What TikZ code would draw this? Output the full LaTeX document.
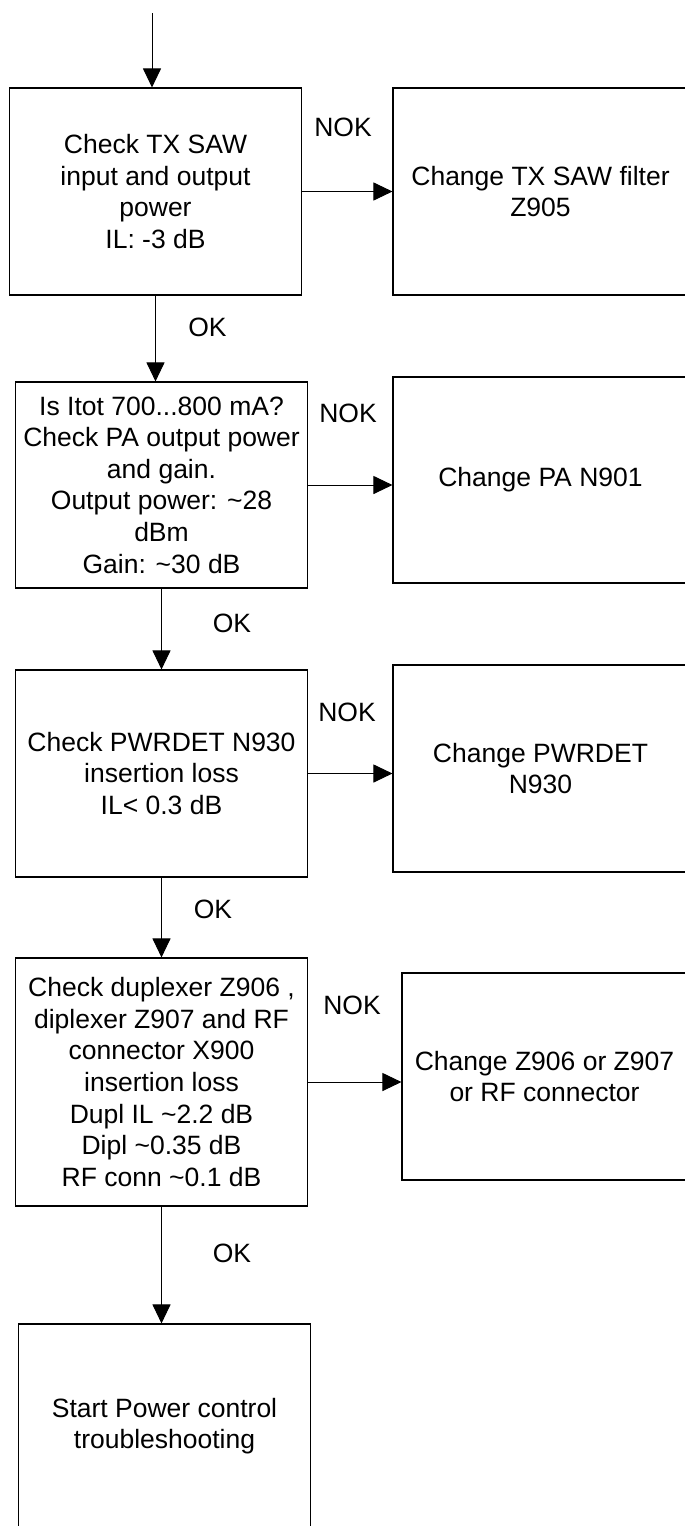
\documentclass[tikz,border=0pt]{standalone}
\usepackage{fontspec}
\setmainfont{Liberation Sans}
\usetikzlibrary{arrows.meta}
\tikzset{
  chkbox/.style={draw,line width=0.55pt,align=center,inner sep=0pt,minimum width=146pt,minimum height=103.5pt},
  fixbox/.style={chkbox,minimum width=147.5pt},
  arr/.style={line width=0.5pt,-{Triangle[length=9.5pt,width=9pt]}},
}
\begin{document}
\begin{tikzpicture}[x=0.5pt,y=-0.5pt,font=\fontsize{13.25}{15.8}\selectfont]
\useasboundingbox (0,0) rectangle (685,1526);
\clip (0,0) rectangle (685,1526);
% check column
\node[chkbox] (b1) at (155.5,191.5) {Check TX SAW\\input and output\\power\\IL: -3 dB};
\node[chkbox,minimum width=146.2pt,minimum height=103pt] (b2) at (161.5,485) {Is Itot 700...800 mA?\\Check PA output power\\and gain.\\Output power: \textasciitilde28\\dBm\\Gain: \textasciitilde30 dB};
\node[chkbox,minimum width=146.2pt] (b3) at (161.5,773.5) {Check PWRDET N930\\insertion loss\\IL< 0.3 dB};
\node[chkbox,minimum width=146.2pt,minimum height=124pt] (b4) at (161.5,1082) {Check duplexer Z906 ,\\diplexer Z907 and RF\\connector X900\\insertion loss\\Dupl IL \textasciitilde2.2 dB\\Dipl \textasciitilde0.35 dB\\RF conn \textasciitilde0.1 dB};
\node[chkbox,minimum height=102pt] (b5) at (164.5,1426) {Start Power control\\troubleshooting};
% change column
\node[fixbox] (r1) at (540.5,191.5) {Change TX SAW filter\\Z905};
\node[fixbox,minimum height=103pt] (r2) at (540.5,480) {Change PA N901};
\node[fixbox] (r3) at (540.5,768.5) {Change PWRDET\\N930};
\node[fixbox,minimum width=142.5pt] (r4) at (544.5,1076.5) {Change Z906 or Z907\\or RF connector};
% arrows
\coordinate (in) at (152,13);
\draw[arr] (in) -- (in |- b1.north);
\draw[arr] (b1.south) -- (b1.south |- b2.north);
\draw[arr] (b2.south) -- (b3.north);
\draw[arr] (b3.south) -- (b4.north);
\draw[arr] (b4.south) -- (b4.south |- b5.north);
\foreach \kb/\kr in {b1/r1,b2/r2,b3/r3,b4/r4}{\draw[arr] (\kb.east) -- (\kb.east -| \kr.west);}
% labels
\foreach \nm/\lx/\ly/\lb in {nok1/343/127/NOK,nok2/348/413/NOK,nok3/347/712/NOK,nok4/352/1005/NOK,ok1/207.5/327/OK,ok2/232/623/OK,ok3/213/909/OK,ok4/232/1253/OK}{\node[inner sep=0pt] (\nm) at (\lx,\ly) {\lb};}
\end{tikzpicture}
\end{document}
